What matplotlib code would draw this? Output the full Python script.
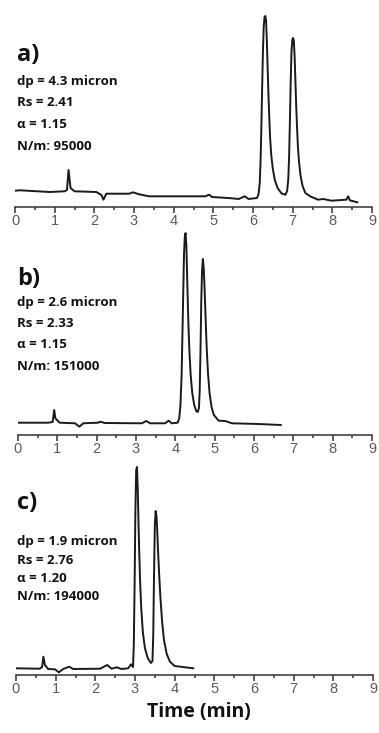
import matplotlib
matplotlib.use("Agg")
import matplotlib.pyplot as plt
from matplotlib.ticker import MultipleLocator

# ---- data (signal in arbitrary units above baseline axis) ----
time_a = [0, 0.125, 0.88, 1.25, 1.31, 1.35, 1.40, 1.50, 2.05, 2.18, 2.23, 2.30, 2.88, 2.97, 3.13, 3.38,
          4.80, 4.89, 4.97, 5.47, 5.64, 5.79, 5.89, 6.10, 6.14, 6.17, 6.19, 6.21, 6.23, 6.25, 6.27,
          6.29, 6.31, 6.33, 6.35, 6.37, 6.39, 6.41, 6.43, 6.46, 6.50, 6.55, 6.62, 6.72, 6.82, 6.86,
          6.89, 6.91, 6.93, 6.95, 6.97, 6.99, 7.01, 7.03, 7.05, 7.07, 7.09, 7.11, 7.13, 7.16, 7.20,
          7.25, 7.32, 7.44, 7.64, 7.77, 7.98, 8.35, 8.40, 8.44, 8.63]
sig_a = [16.3, 16.7, 15.0, 15.7, 17, 37, 19, 15.7, 15.0, 12, 7.3, 13.3, 13.3, 14.7, 12.7, 10.7,
         10.7, 12.3, 10.0, 8.7, 8.0, 10.7, 8.0, 9.0, 13, 24, 45, 78, 118, 155, 180,
         190, 191, 186, 165, 138, 112, 90, 70, 52, 38, 27, 19, 13.5, 12.3, 16,
         28, 50, 85, 125, 155, 167, 169, 166, 150, 125, 100, 80, 62, 45, 31,
         21, 14, 10.7, 7.3, 8.0, 6.3, 7.3, 10.7, 6.7, 4.7]

time_b = [0, 0.77, 0.88, 0.92, 0.95, 1.06, 1.45, 1.56, 1.66, 2.04, 2.08, 2.21, 3.15, 3.26, 3.36,
          3.74, 3.83, 3.91, 4.06, 4.10, 4.13, 4.16, 4.18, 4.20, 4.22, 4.24, 4.26, 4.28, 4.30, 4.32,
          4.34, 4.36, 4.39, 4.43, 4.48, 4.53, 4.57, 4.60, 4.62, 4.64, 4.66, 4.68, 4.70, 4.72, 4.74,
          4.76, 4.78, 4.80, 4.83, 4.87, 4.92, 4.98, 5.10, 5.27, 5.44, 6.12, 6.68]
sig_b = [12.3, 12.3, 13, 25, 16.7, 12.3, 11.7, 8.3, 11.7, 12.3, 13.3, 12, 11.7, 14, 11.7,
         11.7, 14.3, 11.7, 12.3, 17, 30, 60, 100, 140, 180, 198, 202, 190, 160, 128,
         102, 82, 60, 42, 30, 24, 23, 27, 45, 85, 135, 165, 176, 168, 150,
         128, 105, 85, 62, 42, 28, 20, 14.3, 14, 11.7, 11, 10]

time_c = [0, 0.60, 0.66, 0.69, 0.73, 0.81, 0.98, 1.08, 1.19, 1.34, 1.44, 2.12, 2.30, 2.41, 2.54,
          2.66, 2.83, 2.90, 2.95, 2.97, 2.99, 3.01, 3.03, 3.05, 3.07, 3.09, 3.11, 3.13, 3.16, 3.20,
          3.25, 3.32, 3.40, 3.44, 3.46, 3.48, 3.50, 3.52, 3.54, 3.56, 3.58, 3.61, 3.64, 3.68, 3.73,
          3.80, 3.88, 4.00, 4.47]
sig_c = [6.7, 6.3, 8, 18.3, 10, 6, 5.7, 2.7, 6, 8.3, 6, 6.3, 10, 6.3, 7.7,
         6, 6.7, 10.7, 8, 30, 90, 165, 205, 208, 185, 150, 118, 92, 65, 42,
         27, 17, 12, 14, 40, 100, 150, 164, 160, 145, 125, 100, 78, 55, 35,
         21, 13.3, 9, 6.7]

panel_labels = ["a)", "b)", "c)"]
annotations = [
    ["dp = 4.3 micron", "Rs = 2.41", "α = 1.15", "N/m: 95000"],
    ["dp = 2.6 micron", "Rs = 2.33", "α = 1.15", "N/m: 151000"],
    ["dp = 1.9 micron", "Rs = 2.76", "α = 1.20", "N/m: 194000"],
]
xlabel = "Time (min)"
x_ticks = list(range(0, 10))

# ---- layout (pixels in a 379 x 733 figure) ----
W, H = 379, 733
fig = plt.figure(figsize=(W / 100, H / 100), dpi=100)

# (left_px, right_px, axis_y_px, top_px, label_y, line_ys)
layout = [
    (15, 372, 207, 10, 55, [82, 103, 124, 146]),
    (18, 372, 435, 228, 279, [303, 324, 345, 367]),
    (16, 373, 675, 462, 503, [542, 560, 578, 597]),
]
series = [(time_a, sig_a), (time_b, sig_b), (time_c, sig_c)]

for (l, r, ay, ty, lab_y, line_ys), (t, s), plab, ann in zip(layout, series, panel_labels, annotations):
    ax = fig.add_axes([l / W, 1 - ay / H, (r - l) / W, (ay - ty) / H])
    ax.plot(t, s, color="#1a1a1a", lw=1.4, solid_joinstyle="round")
    ax.set_xlim(0, 9)
    ax.set_ylim(0, ay - ty)
    for sp in ["left", "top", "right"]:
        ax.spines[sp].set_visible(False)
    ax.spines["bottom"].set_color("#333333")
    ax.spines["bottom"].set_linewidth(1.1)
    ax.set_yticks([])
    ax.set_xticks(x_ticks)
    ax.xaxis.set_minor_locator(MultipleLocator(0.5))
    ax.tick_params(axis="x", which="major", direction="out", length=4, width=1.1,
                   color="#333333", labelsize=10.5, labelcolor="#5a5a5a", pad=1)
    ax.tick_params(axis="x", which="minor", direction="out", length=2, width=1.1, color="#333333")
    for lbl in ax.get_xticklabels():
        lbl.set_fontfamily("Liberation Sans")

    def ypos(py):
        return (ay - py) / (ay - ty)
    xt = (17 - l) / (r - l)
    ax.text(xt, ypos(lab_y), plab, transform=ax.transAxes, fontsize=17, fontweight="bold",
            family="Open Sans", va="center", ha="left", color="#111111")
    for py, line in zip(line_ys, ann):
        ax.text(xt, ypos(py), line, transform=ax.transAxes, fontsize=9.5, fontweight="bold",
                family="Open Sans", va="center", ha="left", color="#111111")

fig.text(199 / W, 1 - 712 / H, xlabel, ha="center", va="center", fontsize=14,
         fontweight="bold", family="Open Sans", color="#111111")

fig.savefig("out.png", dpi=100, facecolor="white")
